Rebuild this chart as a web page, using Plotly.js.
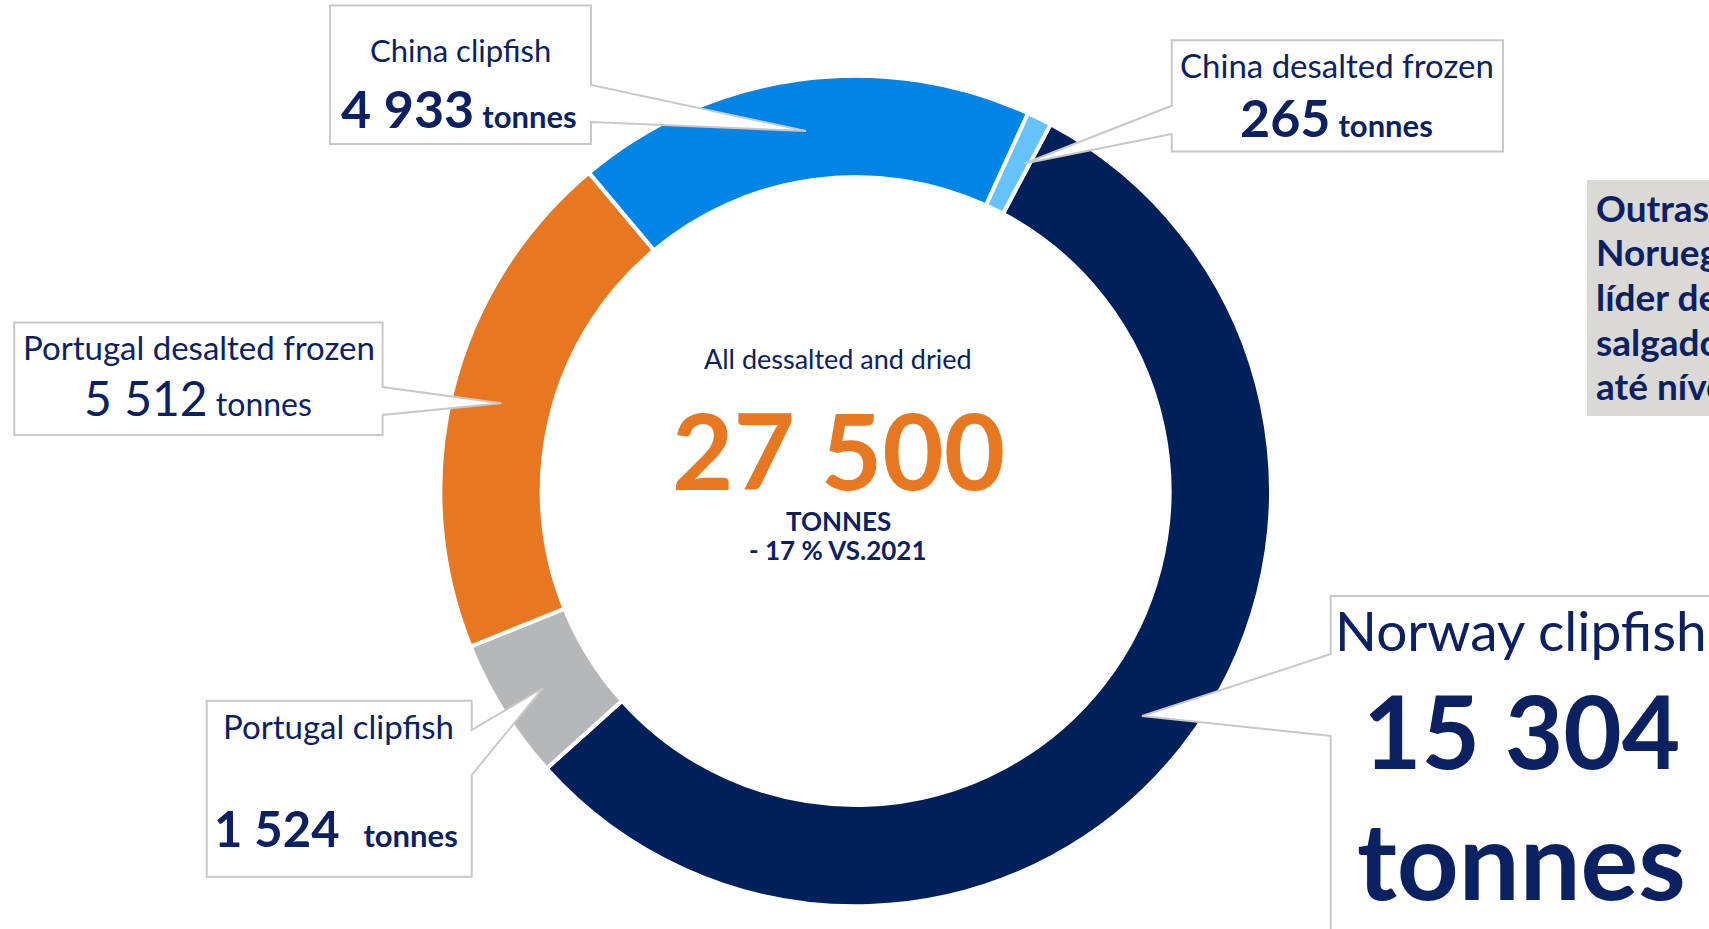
<!DOCTYPE html>
<html>
<head>
<meta charset="utf-8">
<script src="https://cdn.plot.ly/plotly-3.0.1.min.js"></script>
<style>html,body{margin:0;padding:0;background:#fff;}#chart{width:1709px;height:929px;}</style>
</head>
<body>
<div id="chart"></div>
<script>
// ---- data ----
const categories = ['Norway clipfish', 'Portugal clipfish', 'Portugal desalted frozen', 'China clipfish', 'China desalted frozen'];
const tonnes = [15304, 1524, 5512, 4933, 265];
const sliceColors = ['#00205B', '#B6B7B9', '#E87722', '#0084E6', '#66C3FF'];
const centerTitle = 'All dessalted and dried';
const centerTotal = 27500;
const centerUnit = 'TONNES';
const centerChange = '- 17 % VS.2021';
const unitLabel = 'tonnes';
const sideNoteLines = ['Outras', 'Noruega', 'líder de', 'salgado', 'até nível'];

// ---- helpers ----
const W = 1709, H = 929;
const NAVY = '#0B2161';
const FONT = 'Lato, "Open Sans", sans-serif';
const fx = x => x / W;
const fy = y => 1 - y / H;
const P = (x, y) => fx(x).toFixed(5) + ',' + fy(y).toFixed(5);
const fmt = n => String(n).replace(/\B(?=(\d{3})+(?!\d))/g, ' ');

function callout(b) {
  let d;
  if (b.side === 'right') {
    d = 'M' + P(b.L, b.T) + ' L' + P(b.R, b.T) + ' L' + P(b.R, b.p1) + ' L' + P(b.tx, b.ty) +
        ' L' + P(b.R, b.p2) + ' L' + P(b.R, b.B) + ' L' + P(b.L, b.B) + ' Z';
  } else {
    d = 'M' + P(b.R, b.T) + ' L' + P(b.R, b.B) + ' L' + P(b.L, b.B) + ' L' + P(b.L, b.p2) + ' L' + P(b.tx, b.ty) +
        ' L' + P(b.L, b.p1) + ' L' + P(b.L, b.T) + ' Z';
  }
  return {type: 'path', xref: 'paper', yref: 'paper', path: d, layer: 'above',
          fillcolor: '#FFFFFF', line: {color: '#C8C8C8', width: 2}};
}

const boxes = [
  {L: 330, T: 5.5, R: 591, B: 144, side: 'right', p1: 85, p2: 122, tx: 806, ty: 131},          // China clipfish
  {L: 1171.7, T: 40.3, R: 1503, B: 151.5, side: 'left', p1: 105.7, p2: 134, tx: 1024.5, ty: 163.5}, // China desalted frozen
  {L: 14.2, T: 322.6, R: 382.6, B: 434.9, side: 'right', p1: 387, p2: 415, tx: 501.4, ty: 403.3}, // Portugal desalted frozen
  {L: 206.7, T: 700.7, R: 471.7, B: 876.7, side: 'right', p1: 730, p2: 775, tx: 543, ty: 688},   // Portugal clipfish
  {L: 1330.7, T: 596, R: 1780, B: 1000, side: 'left', p1: 654, p2: 736, tx: 1142, ty: 716}        // Norway clipfish
];

const shapes = boxes.map(callout);
shapes.push({type: 'rect', xref: 'paper', yref: 'paper', x0: fx(1587), x1: fx(1780), y0: fy(416), y1: fy(180),
             fillcolor: '#DAD9D6', line: {width: 0}, layer: 'above'});

function ann(text, x, y, size, opts) {
  return Object.assign({
    text: text, x: fx(x), y: fy(y), xref: 'paper', yref: 'paper', showarrow: false,
    xanchor: 'center', yanchor: 'middle', font: {family: FONT, size: size, color: NAVY}
  }, opts || {});
}
const big = (n, size, bold) => (bold ? '<b>' : '') + '<span style="font-size:' + size + 'px">' + fmt(n) + '</span>' + (bold ? '</b>' : '');
const unit = (size, bold) => (bold ? '<b>' : '') + '<span style="font-size:' + size + 'px">' + unitLabel + '</span>' + (bold ? '</b>' : '');

const annotations = [
  // China clipfish
  ann(categories[3], 460, 50, 31),
  ann(big(tonnes[3], 52, true) + ' ' + unit(31, true), 459, 108, 31),
  // China desalted frozen
  ann(categories[4], 1337, 65, 33),
  ann(big(tonnes[4], 52, true) + ' ' + unit(31, true), 1336, 117, 31),
  // Portugal desalted frozen
  ann(categories[2], 199, 347, 33),
  ann(big(tonnes[2], 48, false) + ' ' + unit(32, false), 198, 398, 32),
  // Portugal clipfish
  ann(categories[1], 338, 726, 33),
  ann(big(tonnes[1], 49, true) + '&nbsp;&nbsp;&nbsp;' + unit(31, true), 336, 828, 31),
  // Norway clipfish
  ann(categories[0], 1521, 630, 55),
  ann('<b>' + fmt(tonnes[0]) + '</b>', 1521, 730, 101),
  ann('<b>' + unitLabel + '</b>', 1521, 858, 108),
  // Center
  ann(centerTitle, 838, 359, 27),
  ann('<b>' + fmt(centerTotal) + '</b>', 838, 449, 106, {font: {family: FONT, size: 106, color: '#E87722'}}),
  ann('<b>' + centerUnit + '</b>', 838, 521, 26),
  ann('<b>' + centerChange + '</b>', 838, 550, 26)
];
sideNoteLines.forEach((t, i) => {
  annotations.push(ann('<b>' + t + '</b>', 1594, 207 + i * 44.7, 37, {xanchor: 'left'}));
});

const trace = {
  type: 'pie',
  labels: categories,
  values: tonnes,
  hole: 0.756,
  sort: false,
  direction: 'clockwise',
  rotation: 28,
  textinfo: 'none',
  hoverinfo: 'label+value',
  showlegend: false,
  marker: {colors: sliceColors, line: {color: '#FFFFFF', width: 4}},
  domain: {x: [0.25764, 0.74365], y: [0.02443, 0.91851]}
};

const layout = {
  width: W, height: H,
  margin: {l: 0, r: 0, t: 0, b: 0},
  paper_bgcolor: '#FFFFFF',
  plot_bgcolor: '#FFFFFF',
  showlegend: false,
  shapes: shapes,
  annotations: annotations
};

Plotly.newPlot('chart', [trace], layout, {displayModeBar: false, staticPlot: true});
</script>
</body>
</html>
